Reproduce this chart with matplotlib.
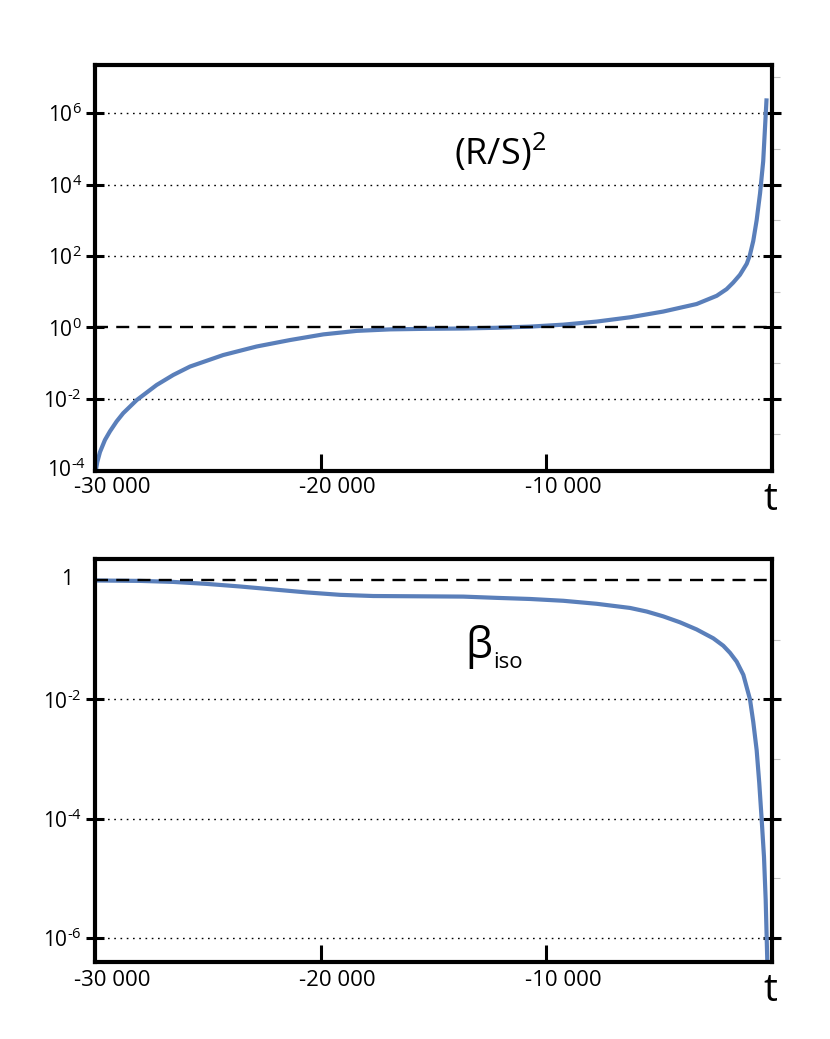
import matplotlib
matplotlib.use("Agg")
import matplotlib.pyplot as plt
import matplotlib.transforms as mtransforms
from matplotlib.ticker import FixedLocator, NullFormatter

plt.rcParams['font.family'] = ['Open Sans', 'DejaVu Sans']
plt.rcParams['mathtext.fontset'] = 'custom'
plt.rcParams['mathtext.rm'] = 'Open Sans'
plt.rcParams['mathtext.it'] = 'Open Sans'
plt.rcParams['mathtext.bf'] = 'Open Sans:bold'

# ---- data ----
t_rs = [-29960, -29900, -29780, -29560, -29340, -29040, -28750, -28150, -27270,
        -26530, -25790, -24320, -22840, -21360, -19880, -18400, -16930, -15450,
        -13680, -12200, -10720, -9250, -7770, -6290, -4820, -3340, -2450,
        -2010, -1720, -1420, -1120, -980, -830, -680, -530, -390, -240]
rs2 = [1.0e-4, 1.66e-4, 3.16e-4, 6.9e-4, 1.2e-3, 2.3e-3, 3.9e-3, 9.1e-3, 2.4e-2,
       4.6e-2, 7.9e-2, 0.166, 0.288, 0.437, 0.63, 0.79, 0.87, 0.90,
       0.92, 0.966, 1.04, 1.18, 1.44, 1.9, 2.75, 4.47, 7.6,
       11.7, 17.8, 29.5, 60.0, 105.0, 263.0, 1000.0, 5620.0, 4.47e4, 2.6e6]

t_beta = [-30000, -28000, -26530, -25050, -23580, -22100, -20620, -19140, -17670,
          -15300, -13680, -12200, -10720, -9250, -7770, -6290, -5550, -4820,
          -4080, -3340, -2600, -2160, -1860, -1565, -1270, -976, -830, -680,
          -565, -460, -355, -280, -210]
beta_iso = [0.977, 0.962, 0.925, 0.857, 0.776, 0.692, 0.617, 0.562, 0.537,
            0.53, 0.525, 0.50, 0.479, 0.447, 0.398, 0.339, 0.295, 0.245,
            0.195, 0.148, 0.105, 0.079, 0.060, 0.0427, 0.0257, 0.010, 4.17e-3, 1.41e-3,
            3.98e-4, 1.0e-4, 2.3e-5, 4.4e-6, 4.3e-7]

x_ticks = [-20000, -10000]
x_label_pos = [-30000, -20000, -10000]
x_label_txt = ['-30 000', '-20 000', '-10 000']

top_yticks = [1e-2, 1e0, 1e2, 1e4, 1e6]
top_ylabels = [r'$10^{\text{-}2}$', r'$10^{0}$', r'$10^{2}$', r'$10^{4}$', r'$10^{6}$']
top_ylabel_extra = [(1e-4, r'$10^{\text{-}4}$')]
top_dotted = [1e-2, 1e2, 1e4, 1e6]
top_minor = [1e-3, 1e-1, 1e1, 1e3, 1e5, 1e7]

bot_yticks = [1e-6, 1e-4, 1e-2]
bot_ylabels = [r'$10^{\text{-}6}$', r'$10^{\text{-}4}$', r'$10^{\text{-}2}$']
bot_dotted = [1e-6, 1e-4, 1e-2]
bot_minor = [1e-5, 1e-3, 1e-1]

curve_color = '#5a7fba'

W, H = 830, 1039
fig = plt.figure(figsize=(W / 100, H / 100), dpi=100)

ax1 = fig.add_axes([95 / W, 1 - 471 / H, 677 / W, 406 / H])
ax2 = fig.add_axes([95 / W, 1 - 962 / H, 677 / W, 403 / H])


def style(ax, yticks, ylabels, minor, dotted, ylim):
    ax.set_yscale('log')
    ax.set_xlim(-30000, 0)
    ax.set_ylim(*ylim)
    for s in ax.spines.values():
        s.set_linewidth(3.0)
        s.set_color('black')
    ax.yaxis.set_major_locator(FixedLocator(yticks))
    ax.set_yticklabels(ylabels)
    ax.yaxis.set_minor_locator(FixedLocator(minor))
    ax.yaxis.set_minor_formatter(NullFormatter())
    ax.tick_params(axis='y', which='major', left=True, right=True, direction='inout',
                   length=13, width=2.2, labelsize=15, pad=3)
    ax.tick_params(axis='y', which='minor', left=False, right=True, direction='out',
                   length=6, width=0.8, color='#c4c4c4')
    ax.set_xticks(x_ticks)
    ax.xaxis.set_minor_locator(FixedLocator([]))
    ax.tick_params(axis='x', which='major', direction='in', length=12, width=2.2,
                   labelbottom=False, top=False)
    for y in dotted:
        ax.axhline(y, color='black', lw=1.0, linestyle=(0, (1.2, 3.3)), zorder=1)
    ax.axhline(1.0, color='black', lw=1.7, linestyle=(0, (5.5, 3.5)), zorder=3)


style(ax1, top_yticks, top_ylabels, top_minor, top_dotted, (10 ** -4.03, 10 ** 7.35))
style(ax2, bot_yticks, bot_ylabels, bot_minor, bot_dotted, (10 ** -6.4, 10 ** 0.35))

ax1.plot(t_rs, rs2, color=curve_color, lw=3.0, zorder=2, solid_capstyle='butt',
         solid_joinstyle='round')
ax2.plot(t_beta, beta_iso, color=curve_color, lw=3.0, zorder=2, solid_capstyle='butt',
         solid_joinstyle='round')

# extra left labels without ticks
for yv, lab in top_ylabel_extra:
    ax1.text(-0.013, yv, lab, transform=ax1.get_yaxis_transform(), ha='right',
             va='center', fontsize=15)
ax2.text(-0.042, 1.0, '1', transform=ax2.get_yaxis_transform(), ha='center',
         va='center', fontsize=15)

# x tick labels (shifted right as in the reference)
for ax, dy in ((ax1, -0.06), (ax2, -0.08)):
    off = mtransforms.ScaledTranslation(0.17, dy, fig.dpi_scale_trans)
    tr = mtransforms.blended_transform_factory(ax.transData, ax.transAxes) + off
    for xv, lab in zip(x_label_pos, x_label_txt):
        ax.text(xv, 0, lab, transform=tr, ha='center', va='top', fontsize=16)
    ax.text(0.997, -0.025, 't', transform=ax.transAxes, ha='center', va='top', fontsize=28)

# panel titles
fig.text(500 / W, 1 - 165 / H, r'(R/S)$^{2}$', ha='center', va='baseline', fontsize=26)
fig.text(492 / W, 1 - 658 / H, 'β', ha='right', va='baseline', fontsize=31)
fig.text(493 / W, 1 - 668 / H, 'iso', ha='left', va='baseline', fontsize=16)

fig.savefig('out.png', dpi=100)
